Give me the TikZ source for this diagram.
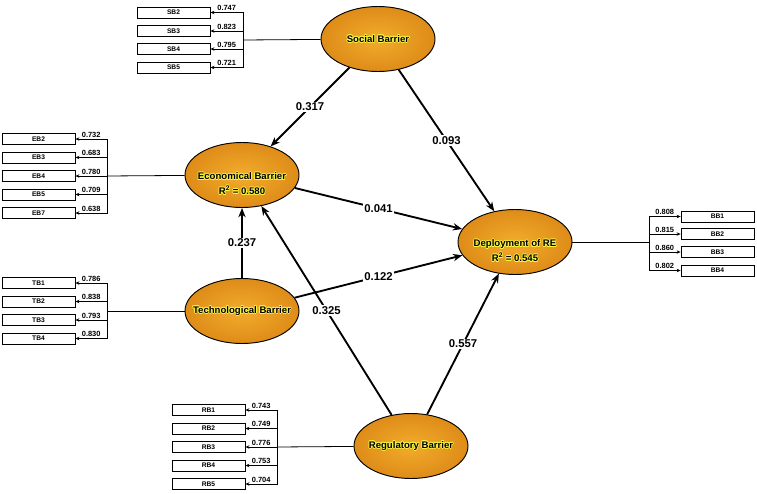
\documentclass[tikz,border=0pt]{standalone}
\usepackage{fontspec}
\setmainfont{Liberation Sans}
\usepackage{xcolor}
\usetikzlibrary{shapes.geometric, arrows.meta}

\definecolor{lvin}{RGB}{242,172,44}
\definecolor{lvout}{RGB}{222,140,24}
\definecolor{glowc}{RGB}{250,248,70}

% yellow halo behind the construct names
\newcommand{\halo}[1]{\leavevmode
  \rlap{\color{glowc}\kern0.5pt#1}%
  \rlap{\color{glowc}\kern-0.5pt#1}%
  \rlap{\color{glowc}\raisebox{0.5pt}{#1}}%
  \rlap{\color{glowc}\raisebox{-0.5pt}{#1}}%
  \rlap{\color{glowc}\kern0.4pt\raisebox{0.4pt}{#1}}%
  \rlap{\color{glowc}\kern-0.4pt\raisebox{0.4pt}{#1}}%
  \rlap{\color{glowc}\kern0.4pt\raisebox{-0.4pt}{#1}}%
  \rlap{\color{glowc}\kern-0.4pt\raisebox{-0.4pt}{#1}}%
  #1}
\newcommand{\lvname}[1]{\makebox[0pt]{\halo{#1}}}
\newcommand{\lvtwo}[2]{\makebox[0pt]{\raisebox{-9pt}[0pt][0pt]{\begin{tabular}{@{}c@{}}\halo{#1}\\[1.5pt]\halo{#2}\end{tabular}}}}

\begin{document}
\begin{tikzpicture}[
    x=0.75pt, y=-0.75pt,
    latent/.style={ellipse, draw, line width=0.7pt, shade, shading=radial, inner color=lvin, outer color=lvout, minimum width=85.5pt, minimum height=48.75pt, inner sep=0pt, font=\fontsize{7.2}{9}\selectfont\bfseries},
    ind/.style={rectangle, draw, line width=0.6pt, fill=white, minimum width=54.75pt, minimum height=8.2pt, inner sep=0pt, font=\fontsize{5}{6}\selectfont\bfseries},
    arrow/.style={-{Stealth[length=7pt, width=5.5pt]}, line width=1.4pt},
    load/.style={-{Stealth[length=3pt, width=2.6pt]}, line width=0.55pt},
    link/.style={line width=0.6pt},
    coef/.style={fill=white, inner sep=1pt, font=\fontsize{8.5}{10}\selectfont\bfseries},
    wt/.style={inner sep=0.8pt, font=\fontsize{5.6}{6}\selectfont\bfseries}
]
\useasboundingbox (0,0) rectangle (757,493);

% Constructs
\node[latent] (sb) at (378,39) {\lvname{Social Barrier}};
\node[latent] (eb) at (242,175) {\lvtwo{Economical Barrier}{R\textsuperscript{2} = 0.580}};
\node[latent] (tb) at (242,311) {\lvname{Technological Barrier}};
\node[latent] (rb) at (411,446) {\lvname{Regulatory Barrier}};
\node[latent] (dr) at (515,242) {\lvtwo{Deployment of RE}{R\textsuperscript{2} = 0.545}};

% Social Barrier indicators
\node[ind] (sb2) at (173.5,12.5) {SB2};
\node[ind] (sb3) at (173.5,31) {SB3};
\node[ind] (sb4) at (173.5,49) {SB4};
\node[ind] (sb5) at (173.5,67.5) {SB5};
\coordinate (sbj) at (243,40);

% Economical Barrier indicators
\node[ind] (eb2) at (38.5,139) {EB2};
\node[ind] (eb3) at (38.5,157.5) {EB3};
\node[ind] (eb4) at (38.5,176) {EB4};
\node[ind] (eb5) at (38.5,194.5) {EB5};
\node[ind] (eb7) at (38.5,213) {EB7};
\coordinate (ebj) at (107,176);

% Technological Barrier indicators
\node[ind] (tb1) at (38.5,283) {TB1};
\node[ind] (tb2) at (38.5,301.5) {TB2};
\node[ind] (tb3) at (38.5,320) {TB3};
\node[ind] (tb4) at (38.5,338.5) {TB4};
\coordinate (tbj) at (107,311);

% Regulatory Barrier indicators
\node[ind] (rb1) at (208.5,410) {RB1};
\node[ind] (rb2) at (208.5,428.5) {RB2};
\node[ind] (rb3) at (208.5,447) {RB3};
\node[ind] (rb4) at (208.5,465.5) {RB4};
\node[ind] (rb5) at (208.5,484) {RB5};
\coordinate (rbj) at (277,447);

% Deployment of RE indicators
\node[ind] (bb1) at (717.5,216.5) {BB1};
\node[ind] (bb2) at (717.5,234) {BB2};
\node[ind] (bb3) at (717.5,252) {BB3};
\node[ind] (bb4) at (717.5,270.5) {BB4};
\coordinate (bbj) at (649,242);

% Outer loadings
\draw[link] (sbj) -- (sb);
\draw[load] (sbj) |- (sb2) node[wt, pos=0.75, above] {0.747};
\draw[load] (sbj) |- (sb3) node[wt, pos=0.75, above] {0.823};
\draw[load] (sbj) |- (sb4) node[wt, pos=0.75, above] {0.795};
\draw[load] (sbj) |- (sb5) node[wt, pos=0.75, above] {0.721};

\draw[link] (ebj) -- (eb);
\draw[load] (ebj) |- (eb2) node[wt, pos=0.75, above] {0.732};
\draw[load] (ebj) |- (eb3) node[wt, pos=0.75, above] {0.683};
\draw[load] (ebj) |- (eb4) node[wt, pos=0.75, above] {0.780};
\draw[load] (ebj) |- (eb5) node[wt, pos=0.75, above] {0.709};
\draw[load] (ebj) |- (eb7) node[wt, pos=0.75, above] {0.638};

\draw[link] (tbj) -- (tb);
\draw[load] (tbj) |- (tb1) node[wt, pos=0.75, above] {0.786};
\draw[load] (tbj) |- (tb2) node[wt, pos=0.75, above] {0.838};
\draw[load] (tbj) |- (tb3) node[wt, pos=0.75, above] {0.793};
\draw[load] (tbj) |- (tb4) node[wt, pos=0.75, above] {0.830};

\draw[link] (rbj) -- (rb);
\draw[load] (rbj) |- (rb1) node[wt, pos=0.75, above] {0.743};
\draw[load] (rbj) |- (rb2) node[wt, pos=0.75, above] {0.749};
\draw[load] (rbj) |- (rb3) node[wt, pos=0.75, above] {0.776};
\draw[load] (rbj) |- (rb4) node[wt, pos=0.75, above] {0.753};
\draw[load] (rbj) |- (rb5) node[wt, pos=0.75, above] {0.704};

\draw[link] (dr) -- (bbj);
\draw[load] (bbj) |- (bb1) node[wt, pos=0.75, above] {0.808};
\draw[load] (bbj) |- (bb2) node[wt, pos=0.75, above] {0.815};
\draw[load] (bbj) |- (bb3) node[wt, pos=0.75, above] {0.860};
\draw[load] (bbj) |- (bb4) node[wt, pos=0.75, above] {0.802};

% Path coefficients
\draw[arrow] (sb) -- node[coef] (p1) {0.317} (eb);
\draw[arrow] (sb) -- node[coef] (p2) {0.093} (dr);
\draw[arrow] (eb) -- node[coef] (p3) {0.041} (dr);
\draw[arrow] (tb) -- node[coef] (p4) {0.237} (eb);
\draw[arrow] (tb) -- node[coef] (p5) {0.122} (dr);
\draw[arrow] (rb) -- node[coef] (p6) {0.325} (eb);
\draw[arrow] (rb) -- node[coef] (p7) {0.557} (dr);

\end{tikzpicture}
\end{document}
